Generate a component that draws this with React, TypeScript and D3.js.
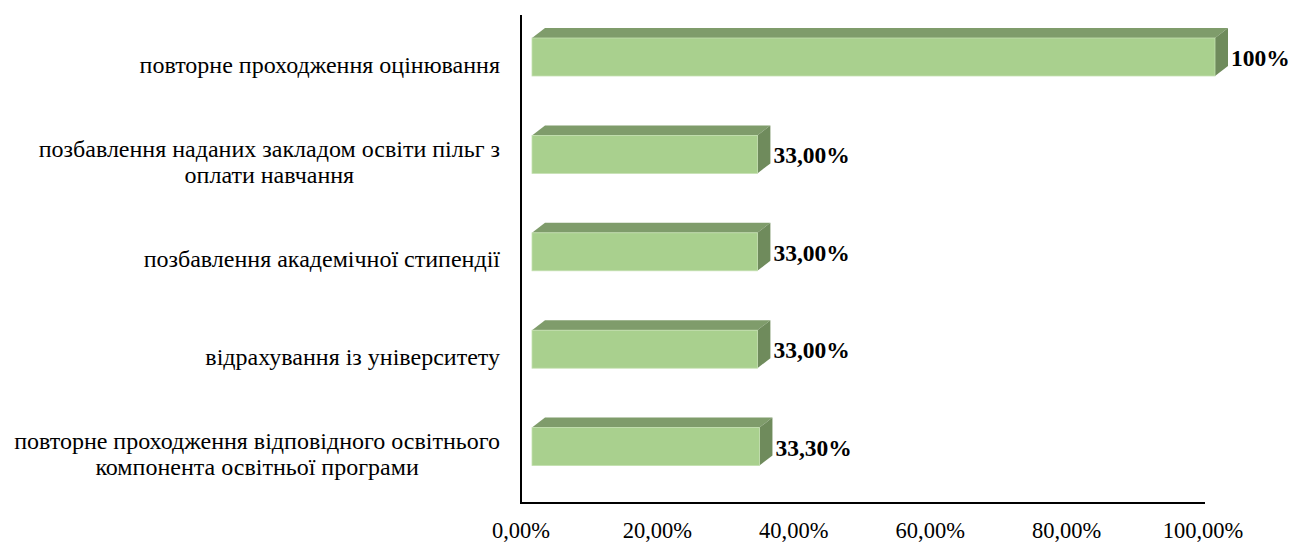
import React from "react";
import * as d3 from "d3";

const categories: string[][] = [
  ["повторне проходження оцінювання"],
  ["позбавлення наданих закладом освіти пільг з", "оплати навчання"],
  ["позбавлення академічної стипендії"],
  ["відрахування із університету"],
  ["повторне проходження відповідного освітнього", "компонента освітньої програми"],
];
const values: number[] = [1.0, 0.33, 0.33, 0.33, 0.333];
const valueLabels: string[] = ["100%", "33,00%", "33,00%", "33,00%", "33,30%"];
const ticks: number[] = [0, 0.2, 0.4, 0.6, 0.8, 1.0];

const W = 1293;
const H = 542;

const locale = d3.formatLocale({ decimal: ",", thousands: " ", grouping: [3], currency: ["", ""] });
const fmtTick = locale.format(".2%");

const FONT = "Liberation Serif";

export default function App() {
  const axisX = 521;
  const axisY = 503;
  const axisTop = 15;
  const xAxis = d3.scaleLinear().domain([0, 1]).range([axisX, 1203]);
  const xBar = d3.scaleLinear().domain([0, 1]).range([532, 1215]);
  const keys = categories.map((_, i) => String(i));
  const y = d3.scaleBand().domain(keys).range([8.3, 495.3]).paddingInner(0.61).paddingOuter(0.305);
  const barH = y.bandwidth();
  const dx = 13;
  const dy = 10;
  const labelRight = 500;

  return (
    <svg width={W} height={H} style={{ position: "absolute", left: 0, top: 0, background: "#fff" }}>
      {values.map((v, i) => {
        const yt = y(String(i))!;
        const yb = yt + barH;
        const x0 = xBar(0);
        const x1 = xBar(v);
        const top = `${x0},${yt} ${x0 + dx},${yt - dy} ${x1 + dx},${yt - dy} ${x1},${yt}`;
        const side = `${x1},${yt} ${x1 + dx},${yt - dy} ${x1 + dx},${yb - dy} ${x1},${yb}`;
        const cy = yt + barH / 2;
        return (
          <g key={i}>
            <polygon points={top} fill="#7f9c6b" />
            <polygon points={side} fill="#6f8b5c" />
            <rect x={x0} y={yt} width={x1 - x0} height={barH} fill="#a9d08e" stroke="#c4e0b0" strokeWidth={0.8} />
            <text x={x1 + dx + 3} y={cy + 9} fontWeight="bold" fontSize={23.5} fill="#000" style={{ fontFamily: FONT }}>
              {valueLabels[i]}
            </text>
          </g>
        );
      })}
      {categories.map((lines, i) => {
        const c = y(String(i))! + barH / 2 + 10;
        const n = lines.length;
        const lh = 26;
        return lines.map((ln, j) => (
          <text
            key={`${i}-${j}`}
            className="cat"
            data-block={i}
            x={labelRight}
            y={c + (j - (n - 1) / 2) * lh + 5.5}
            fontSize={24}
            fill="#000"
            style={{ fontFamily: FONT }}
          >
            {ln}
          </text>
        ));
      })}
      <line x1={axisX} x2={axisX} y1={axisTop} y2={axisY + 1} stroke="#000" strokeWidth={2} />
      <line x1={axisX - 1} x2={1205} y1={axisY} y2={axisY} stroke="#000" strokeWidth={2} />
      {ticks.map((t, i) => (
        <text
          key={i}
          className="ctr"
          data-cx={xAxis(t)}
          x={xAxis(t)}
          y={538}
          fontSize={22.5}
          fill="#000"
          style={{ fontFamily: FONT }}
        >
          {fmtTick(t)}
        </text>
      ))}
      <Layout right={labelRight} />
    </svg>
  );
}

function Layout({ right }: { right: number }) {
  const ref = React.useRef<SVGGElement>(null);
  React.useLayoutEffect(() => {
    const svg = ref.current?.ownerSVGElement;
    if (!svg) return;
    const groups = d3.group(
      Array.from(svg.querySelectorAll<SVGTextElement>("text.cat")),
      (el) => el.getAttribute("data-block")
    );
    groups.forEach((els) => {
      const widths = els.map((s) => s.getComputedTextLength());
      const maxW = d3.max(widths) || 0;
      const cx = right - maxW / 2;
      els.forEach((s, k) => s.setAttribute("x", String(cx - widths[k] / 2)));
    });
    svg.querySelectorAll<SVGTextElement>("text.ctr").forEach((el) => {
      const cx = Number(el.getAttribute("data-cx"));
      el.setAttribute("x", String(cx - el.getComputedTextLength() / 2));
    });
  }, []);
  return <g ref={ref} />;
}
